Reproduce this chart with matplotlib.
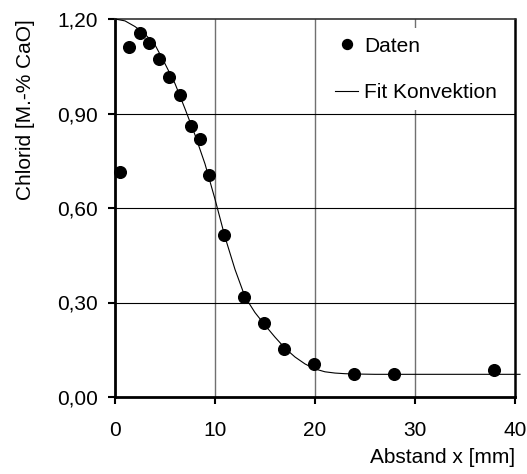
import matplotlib
matplotlib.use("Agg")
import matplotlib.pyplot as plt
from matplotlib import ticker

# Measured data
x_data = [0.5, 1.4, 2.5, 3.4, 4.4, 5.4, 6.5, 7.6, 8.5, 9.4, 10.9, 12.9, 14.9, 16.9, 19.9, 23.9, 27.9, 37.9]
y_data = [0.714, 1.112, 1.157, 1.125, 1.073, 1.017, 0.959, 0.861, 0.819, 0.706, 0.514, 0.316, 0.234, 0.153, 0.105, 0.074, 0.072, 0.085]

# Fit curve
x_fit = [0, 1, 2, 3, 4, 5, 6, 7, 8, 9, 10, 11, 12, 13, 14, 15, 16, 17, 18, 19, 20, 21, 22, 23, 24, 26, 30, 35, 40.5]
y_fit = [1.200, 1.194, 1.176, 1.152, 1.118, 1.058, 0.995, 0.915, 0.832, 0.740, 0.628, 0.508, 0.405, 0.318, 0.268, 0.228, 0.190, 0.155, 0.127, 0.105, 0.089, 0.080, 0.076, 0.074, 0.073, 0.072, 0.072, 0.072, 0.072]

x_ticks = [0, 10, 20, 30, 40]
y_ticks = [0.0, 0.3, 0.6, 0.9, 1.2]

plt.rcParams['font.family'] = ['Liberation Sans', 'DejaVu Sans']
FS = 15

fig = plt.figure(figsize=(5.27, 4.74), dpi=100)
ax = fig.add_axes([115/527, 77/474, 400/527, 378/474])

ax.set_xlim(0, 40)
ax.set_ylim(0, 1.2)

# grid
for xv in x_ticks[1:-1]:
    ax.axvline(xv, color='#707070', lw=1.0, zorder=1)
for yv in y_ticks[1:-1]:
    ax.axhline(yv, color='black', lw=0.8, zorder=6)

ax.plot(x_fit, y_fit, color='black', lw=0.8, zorder=3, clip_on=False, label='Fit Konvektion')
ax.plot(x_data, y_data, 'o', color='black', ms=8.4, zorder=4, clip_on=False, label='Daten')

ax.set_xticks(x_ticks)
ax.set_yticks(y_ticks)
ax.xaxis.set_major_formatter(ticker.FuncFormatter(lambda v, _: f"{v:.0f}"))
ax.yaxis.set_major_formatter(ticker.FuncFormatter(lambda v, _: f"{v:.2f}".replace('.', ',')))
ax.tick_params(axis='x', direction='out', length=5, width=1.5, pad=12, labelsize=FS)
ax.tick_params(axis='y', direction='out', length=5, width=1.5, pad=7, labelsize=FS)

for s in ['left', 'bottom']:
    ax.spines[s].set_linewidth(2.0)
ax.spines['right'].set_linewidth(1.8)
ax.spines['top'].set_linewidth(1.2)
ax.spines['top'].set_color('#333333')

ax.set_xlabel('Abstand x [mm]', fontsize=FS, loc='right')
ax.xaxis.set_label_coords(1.0, -0.135)
ax.set_ylabel('Chlorid [M.-% CaO]', fontsize=FS, loc='top')
ax.yaxis.set_label_coords(-0.2, 1.0)

handles, labels = ax.get_legend_handles_labels()
leg = ax.legend(handles[::-1], labels[::-1], loc='upper right', bbox_to_anchor=(1.0, 1.0),
                fontsize=FS, frameon=True, facecolor='white', edgecolor='none', framealpha=1,
                fancybox=False, handlelength=1.1, handletextpad=0.3, labelspacing=1.3,
                borderpad=0.4, borderaxespad=0.45, markerscale=0.85)
leg.set_zorder(5)

fig.savefig('out.png', dpi=100)
